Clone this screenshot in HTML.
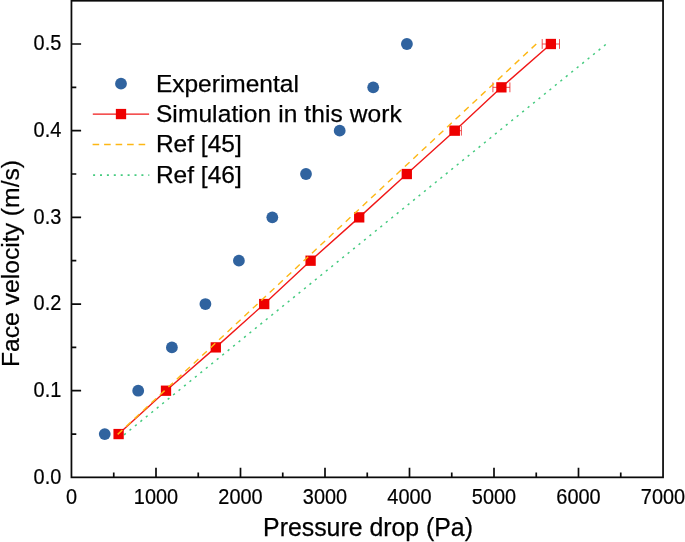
<!DOCTYPE html>
<html lang="en"><head><meta charset="utf-8"><title>Face velocity vs pressure drop</title>
<style>html,body{margin:0;padding:0;background:#fff}body{width:685px;height:542px;overflow:hidden}svg{display:block}text{font-family:"Liberation Sans",Arial,sans-serif;fill:#000}</style>
</head><body>
<svg width="685" height="542" viewBox="0 0 685 542">
<rect x="0" y="0" width="685" height="542" fill="#fff"/>
<g fill="none">
<line x1="124.06" y1="434.81" x2="606.38" y2="44.00" stroke="#46cb80" stroke-width="1.5" stroke-dasharray="2.2 4.82"/>
<polyline points="118.60,434.06 166.00,390.72 215.80,347.38 264.20,304.04 310.60,260.70 359.20,217.36 406.80,174.02 454.80,130.68 501.40,87.34 550.85,44.00" stroke="#f01818" stroke-width="1.4"/>
</g>
<g stroke="#ee2222" stroke-width="0.8" fill="none">
<path d="M449.80 130.68H461.40M449.80 125.78V135.58M461.40 125.78V135.58"/>
<path d="M492.90 87.34H509.90M492.90 82.44V92.24M509.90 82.44V92.24"/>
<path d="M542.20 44.00H559.50M542.20 39.10V48.90M559.50 39.10V48.90"/>
</g>
<g fill="#ee0000">
<rect x="113.45" y="428.91" width="10.3" height="10.3"/>
<rect x="160.85" y="385.57" width="10.3" height="10.3"/>
<rect x="210.65" y="342.23" width="10.3" height="10.3"/>
<rect x="259.05" y="298.89" width="10.3" height="10.3"/>
<rect x="305.45" y="255.55" width="10.3" height="10.3"/>
<rect x="354.05" y="212.21" width="10.3" height="10.3"/>
<rect x="401.65" y="168.87" width="10.3" height="10.3"/>
<rect x="449.65" y="125.53" width="10.3" height="10.3"/>
<rect x="496.25" y="82.19" width="10.3" height="10.3"/>
<rect x="545.70" y="38.85" width="10.3" height="10.3"/>
</g>
<line x2="117.38" y2="434.66" x1="536.25" y1="44.00" stroke="#fdb714" stroke-width="1.4" stroke-dasharray="6.4 5.15" fill="none"/>
<g fill="#30639f">
<circle cx="104.75" cy="434.06" r="5.9"/>
<circle cx="138.20" cy="390.72" r="5.9"/>
<circle cx="171.90" cy="347.38" r="5.9"/>
<circle cx="205.40" cy="304.04" r="5.9"/>
<circle cx="238.90" cy="260.70" r="5.9"/>
<circle cx="272.30" cy="217.36" r="5.9"/>
<circle cx="306.00" cy="174.02" r="5.9"/>
<circle cx="339.70" cy="130.68" r="5.9"/>
<circle cx="373.20" cy="87.34" r="5.9"/>
<circle cx="406.90" cy="44.00" r="5.9"/>
</g>
<rect x="71.45" y="0.75" width="591.60" height="476.60" fill="none" stroke="#0a0a0a" stroke-width="1.75"/>
<path d="M113.75 477.35v-4.9M156.00 477.35v-9.7M198.25 477.35v-4.9M240.50 477.35v-9.7M282.75 477.35v-4.9M325.00 477.35v-9.7M367.25 477.35v-4.9M409.50 477.35v-9.7M451.75 477.35v-4.9M494.00 477.35v-9.7M536.25 477.35v-4.9M578.50 477.35v-9.7M620.75 477.35v-4.9M71.50 434.06h4.8M71.50 390.72h9.6M71.50 347.38h4.8M71.50 304.04h9.6M71.50 260.70h4.8M71.50 217.36h9.6M71.50 174.02h4.8M71.50 130.68h9.6M71.50 87.34h4.8M71.50 44.00h9.6" stroke="#0a0a0a" stroke-width="1.7" fill="none"/>
<g font-size="20.6px" stroke="#000" stroke-width="0.2">
<g text-anchor="end">
<text transform="translate(61.3 483.60) scale(0.968 1.035)">0.0</text>
<text transform="translate(61.3 396.92) scale(0.968 1.035)">0.1</text>
<text transform="translate(61.3 310.24) scale(0.968 1.035)">0.2</text>
<text transform="translate(61.3 223.56) scale(0.968 1.035)">0.3</text>
<text transform="translate(61.3 136.88) scale(0.968 1.035)">0.4</text>
<text transform="translate(61.3 50.20) scale(0.968 1.035)">0.5</text>
</g><g text-anchor="middle">
<text transform="translate(71.50 503.55) scale(0.968 1.035)">0</text>
<text transform="translate(156.00 503.55) scale(0.968 1.035)">1000</text>
<text transform="translate(240.50 503.55) scale(0.968 1.035)">2000</text>
<text transform="translate(325.00 503.55) scale(0.968 1.035)">3000</text>
<text transform="translate(409.50 503.55) scale(0.968 1.035)">4000</text>
<text transform="translate(494.00 503.55) scale(0.968 1.035)">5000</text>
<text transform="translate(578.50 503.55) scale(0.968 1.035)">6000</text>
<text transform="translate(663.00 503.55) scale(0.968 1.035)">7000</text>
</g></g>
<g font-size="24.85px" stroke="#000" stroke-width="0.25">
<text x="368" y="536.2" text-anchor="middle">Pressure drop (Pa)</text>
<text transform="translate(18.5 263.5) rotate(-90)" text-anchor="middle" font-size="24.7px">Face velocity (m/s)</text>
</g><g font-size="24.5px" stroke="#000" stroke-width="0.25">
<text x="155.9" y="92">Experimental</text>
<text x="155.9" y="122.2" letter-spacing="0.1">Simulation in this work</text>
<text x="155.9" y="152.4">Ref [45]</text>
<text x="155.9" y="182.7">Ref [46]</text>
</g>
<circle cx="121" cy="83.7" r="5.9" fill="#30639f"/>
<line x1="92.8" y1="114.1" x2="149.1" y2="114.1" stroke="#f01818" stroke-width="1.4"/>
<rect x="115.85" y="108.9" width="10.3" height="10.3" fill="#ee0000"/>
<line x1="92.6" y1="144.55" x2="149" y2="144.55" stroke="#fdb714" stroke-width="1.4" stroke-dasharray="6.6 4.9"/>
<line x1="93.1" y1="175.05" x2="149.3" y2="175.05" stroke="#46cb80" stroke-width="1.8" stroke-dasharray="2 4.9"/>
</svg>
</body></html>
